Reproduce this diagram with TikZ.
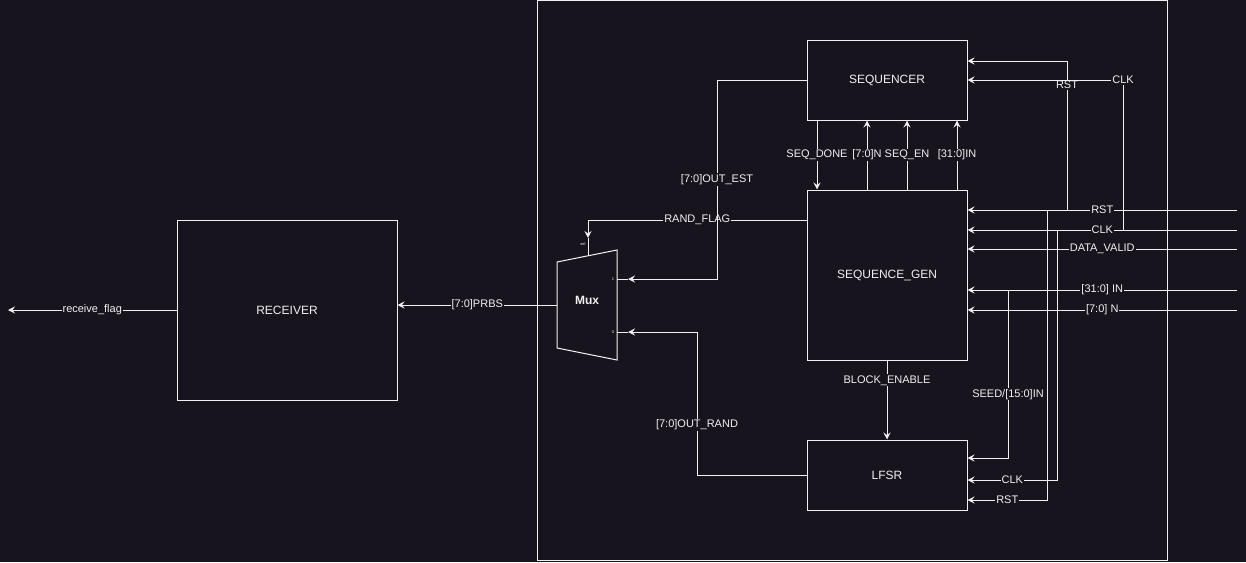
\documentclass[tikz,border=0pt]{standalone}
\usepackage{fontspec}
\setmainfont{Liberation Sans}
\usepackage{xcolor}
\usetikzlibrary{positioning,arrows.meta}
\definecolor{bg}{RGB}{24,20,29}
\definecolor{fg}{RGB}{240,240,240}

\begin{document}
\begin{tikzpicture}[x=1pt, y=-1pt, line width=1pt,
	block/.style={draw=fg, text=fg, minimum width=160pt, font=\fontsize{12}{14}\selectfont},
	wire/.style={draw=fg, -{Stealth[length=7pt, width=7pt, inset=2.5pt]}},
	lbl/.style={fill=bg, text=fg, inner sep=1pt, font=\fontsize{11}{13}\selectfont},
	tiny/.style={text=fg, inner sep=0pt, font=\fontsize{4}{5}\selectfont}]
	\fill[bg] (0,0) rectangle (1246,562);
	\draw[fg] (537,0.5) rectangle (1167,560);
	
	\node[block, minimum height=80pt](seqr) at (887,80){SEQUENCER};
	\node[block, minimum height=170pt](seqgen) at (887,275){SEQUENCE\_GEN};
	\node[block, minimum height=70pt](lfsr) at (887,475){LFSR};
	\node[block, minimum width=220pt, minimum height=180pt](rx) at (287,310){RECEIVER};
	
	% mux
	\draw[fg] (557,262) -- (617,250) -- (617,360) -- (557,348) -- cycle;
	\node[text=fg, font=\fontsize{12}{14}\selectfont\bfseries](mux) at (587,300){Mux};
	\coordinate (muxsel) at (588,238);
	\coordinate (muxin1) at (628,279);
	\coordinate (muxin0) at (628,332);
	\coordinate (muxout) at (557,305);
	\draw[fg] (muxsel) -- (588,256) (muxin1) -- (617,279) (muxin0) -- (617,332);
	\node[tiny] at (583,244){sel};
	\node[tiny] at (613,279){1};
	\node[tiny] at (613,332){0};
	
	% free ends
	\coordinate (flag) at (8,310);
	\coordinate (inRST) at (1237,210);
	\coordinate (inCLK) at (1237,230);
	\coordinate (inDV) at (1237,249);
	\coordinate (inIN) at (1237,290);
	\coordinate (inN) at (1237,310);
	
	\draw[wire] (seqgen.west |- 0,220) -- node[lbl]{RAND\_FLAG} (588,220) -- (muxsel);
	\draw[wire] (seqr.west) -- (717,80) -- node[lbl]{[7:0]OUT\_EST} (717,279) -- (muxin1);
	\draw[wire] (lfsr.west) -- (697,475) -- node[lbl, pos=0.35]{[7:0]OUT\_RAND} (697,332) -- (muxin0);
	\draw[wire] (muxout) -- node[lbl]{[7:0]PRBS} (rx.east |- muxout);
	\draw[wire] (rx.west) -- node[lbl]{receive\_flag} (flag);
	
	\draw[wire] (seqr.south -| 817,0) -- node[lbl]{SEQ\_DONE} (seqgen.north -| 817,0);
	\draw[wire] (seqgen.north -| 867,0) -- node[lbl]{[7:0]N} (seqr.south -| 867,0);
	\draw[wire] (seqgen.north -| 907,0) -- node[lbl]{SEQ\_EN} (seqr.south -| 907,0);
	\draw[wire] (seqgen.north -| 957,0) -- node[lbl]{[31:0]IN} (seqr.south -| 957,0);
	\draw[wire] (seqgen) -- node[lbl, pos=0.25]{BLOCK\_ENABLE} (lfsr);
	
	\draw[wire] (inRST) -- node[lbl]{RST} (seqgen.east |- inRST);
	\draw[wire] (inCLK) -- node[lbl]{CLK} (seqgen.east |- inCLK);
	\draw[wire] (inDV) -- node[lbl]{DATA\_VALID} (seqgen.east |- inDV);
	\draw[wire] (inIN) -- node[lbl]{[31:0] IN} (seqgen.east |- inIN);
	\draw[wire] (inN) -- node[lbl]{[7:0] N} (seqgen.east |- inN);
	
	\draw[wire] (1067,210) -- node[lbl, pos=0.84]{RST} (1067,61) -- (seqr.east |- 0,61);
	\draw[wire] (1123,230) -- (1123,80) node[lbl]{CLK} -- (seqr.east |- 0,80);
	\draw[wire] (1008,290) -- node[lbl, pos=0.62]{SEED/[15:0]IN} (1008,458) -- (lfsr.east |- 0,458);
	\draw[wire] (1057,230) -- (1057,480) -- node[lbl]{CLK} (lfsr.east |- 0,480);
	\draw[wire] (1047,210) -- (1047,500) -- node[lbl]{RST} (lfsr.east |- 0,500);
\end{tikzpicture}
\end{document}
